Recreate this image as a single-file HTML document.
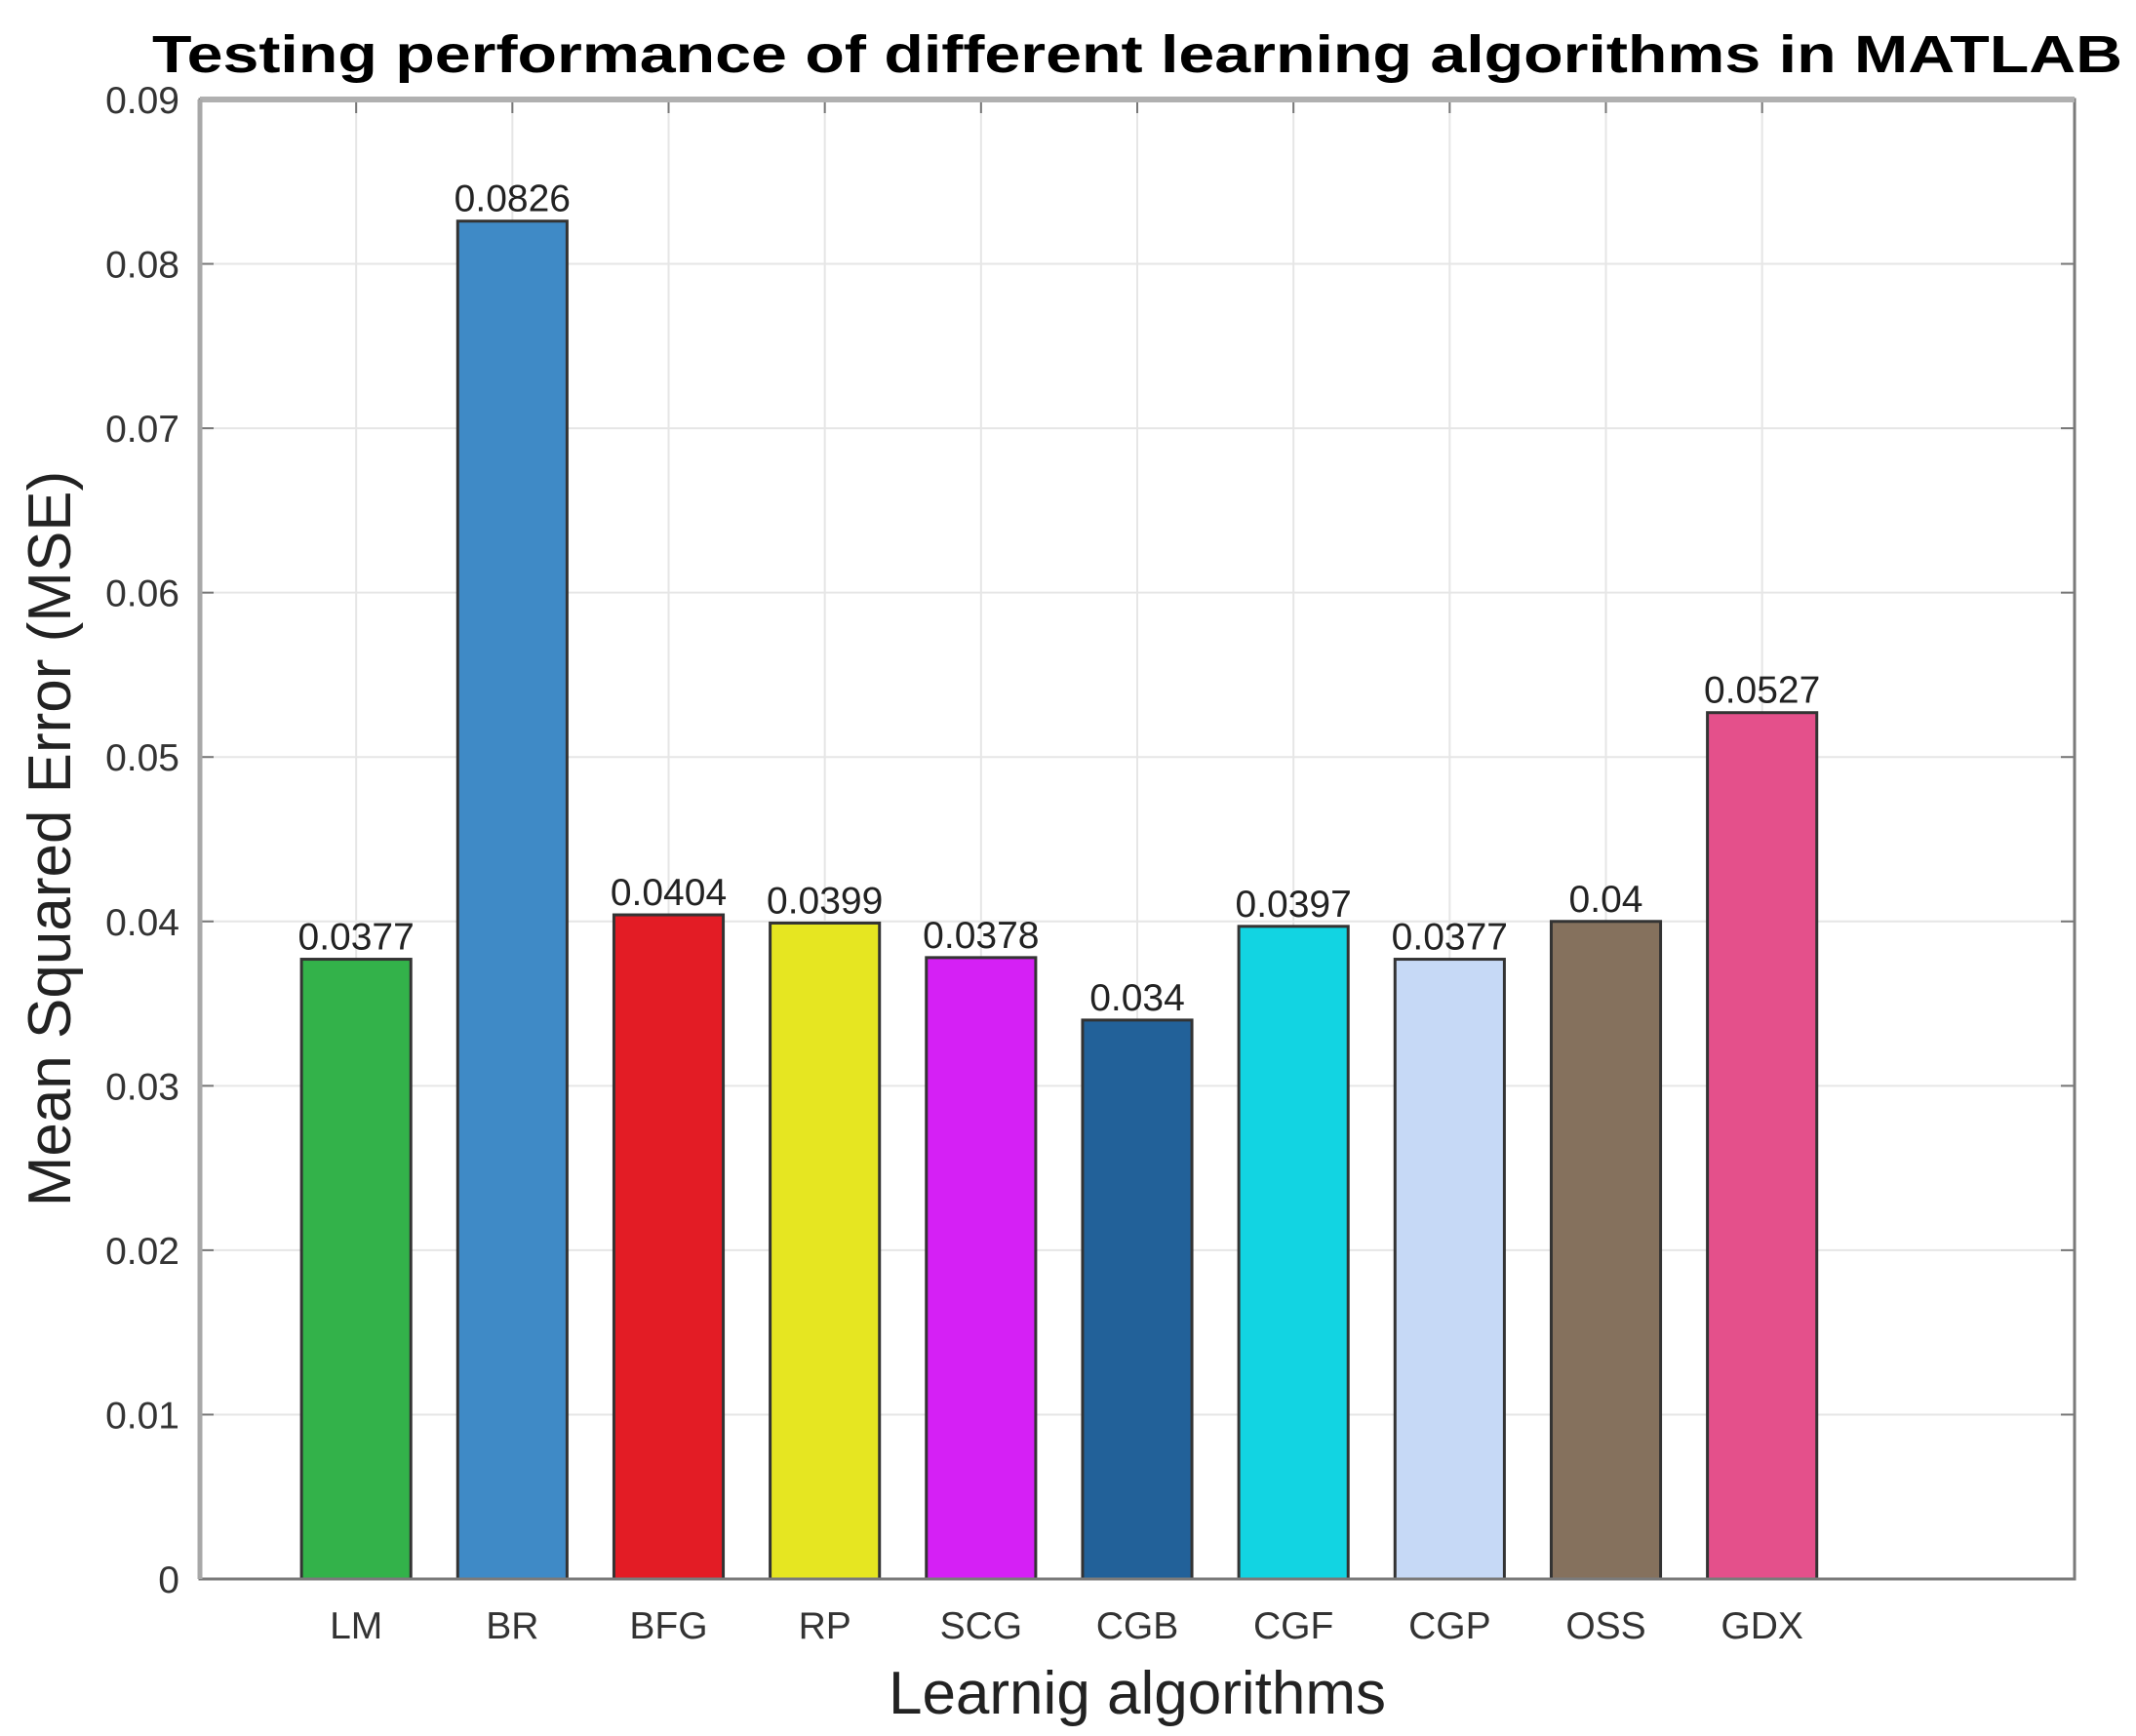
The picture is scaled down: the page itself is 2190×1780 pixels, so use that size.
<!DOCTYPE html>
<html><head><meta charset="utf-8"><style>
html,body{margin:0;padding:0;background:#fff;}
svg{display:block;font-family:"Liberation Sans",Arial,sans-serif;}
</style></head><body>
<svg id="chart" width="2190" height="1780" viewBox="0 0 2190 1780" xmlns="http://www.w3.org/2000/svg">
<rect x="0" y="0" width="2190" height="1780" fill="#fff"/>
<text x="1166" y="74" font-size="54" font-weight="bold" text-anchor="middle" fill="#000" textLength="2020" lengthAdjust="spacingAndGlyphs">Testing performance of different learning algorithms in MATLAB</text>
<g id="grid"></g>
<g id="bars"></g>
<g id="axes"></g>
<text x="1166" y="1757" font-size="62" text-anchor="middle" fill="#222">Learnig algorithms</text>
<text transform="translate(72,860) rotate(-90)" font-size="62" text-anchor="middle" fill="#222">Mean Squared Error (MSE)</text>
</svg>
<script>
const categories = ["LM","BR","BFG","RP","SCG","CGB","CGF","CGP","OSS","GDX"];
const values = [0.0377,0.0826,0.0404,0.0399,0.0378,0.034,0.0397,0.0377,0.04,0.0527];
const valueLabels = ["0.0377","0.0826","0.0404","0.0399","0.0378","0.034","0.0397","0.0377","0.04","0.0527"];
const colors = ["#33b24a","#3f8ac6","#e31c25","#e6e621","#d520f5","#226199","#12d4e2","#c6d9f6","#85715d","#e4508b"];
const yTicks = [0,0.01,0.02,0.03,0.04,0.05,0.06,0.07,0.08,0.09];
const yTickLabels = ["0","0.01","0.02","0.03","0.04","0.05","0.06","0.07","0.08","0.09"];

const NS="http://www.w3.org/2000/svg";
const L=205,R=2127,T=102,B=1619;
const xMin=0,xMax=12,yMin=0,yMax=0.09;
const xs=v=>L+(v-xMin)/(xMax-xMin)*(R-L);
const ys=v=>B-(v-yMin)/(yMax-yMin)*(B-T);
const unit=(R-L)/(xMax-xMin);
function mk(tag,attrs,parent){const e=document.createElementNS(NS,tag);for(const k in attrs)e.setAttribute(k,attrs[k]);parent.appendChild(e);return e;}
const grid=document.getElementById('grid'),bars=document.getElementById('bars'),axes=document.getElementById('axes');

yTicks.forEach((t,i)=>{
  const y=ys(t);
  const g=mk('line',{x1:L,x2:R,y1:y,y2:y,stroke:'#e6e6e6','stroke-width':2},grid);
  
  
  mk('line',{x1:L,x2:L+14,y1:y,y2:y,stroke:'#777','stroke-width':2},axes);
  mk('line',{x1:R,x2:R-14,y1:y,y2:y,stroke:'#777','stroke-width':2},axes);
  const tx=mk('text',{x:184,y:y+14,'font-size':39,'text-anchor':'end',fill:'#333'},axes);
  tx.textContent=yTickLabels[i];
  
  
});
categories.forEach((c,i)=>{
  const cx=xs(i+1);
  const g=mk('line',{x1:cx,x2:cx,y1:T,y2:B,stroke:'#e6e6e6','stroke-width':2},grid);
  
  
  mk('line',{x1:cx,x2:cx,y1:T,y2:T+14,stroke:'#777','stroke-width':2},axes);
  const w=0.7*unit;
  const top=ys(values[i]);
  const r=mk('rect',{x:cx-w/2,y:top,width:w,height:ys(0)-top,fill:colors[i],stroke:'#333','stroke-width':3},bars);
  
  
  const vl=mk('text',{x:cx,y:top-10,'font-size':39,'text-anchor':'middle',fill:'#222'},bars);
  vl.textContent=valueLabels[i];
  
  
  const xl=mk('text',{x:cx,y:1680,'font-size':39,'text-anchor':'middle',fill:'#333'},axes);
  xl.textContent=c;
  
  
});
const frame=mk('rect',{x:L,y:T,width:R-L,height:B-T,fill:'none',stroke:'#7a7a7a','stroke-width':3},axes);


const topAx=mk('line',{x1:L,x2:R,y1:T,y2:T,stroke:'#b0b0b0','stroke-width':6},axes);


const leftAx=mk('line',{x1:L,x2:L,y1:T,y2:B,stroke:'#a8a8a8','stroke-width':5},axes);


</script>
</body></html>
